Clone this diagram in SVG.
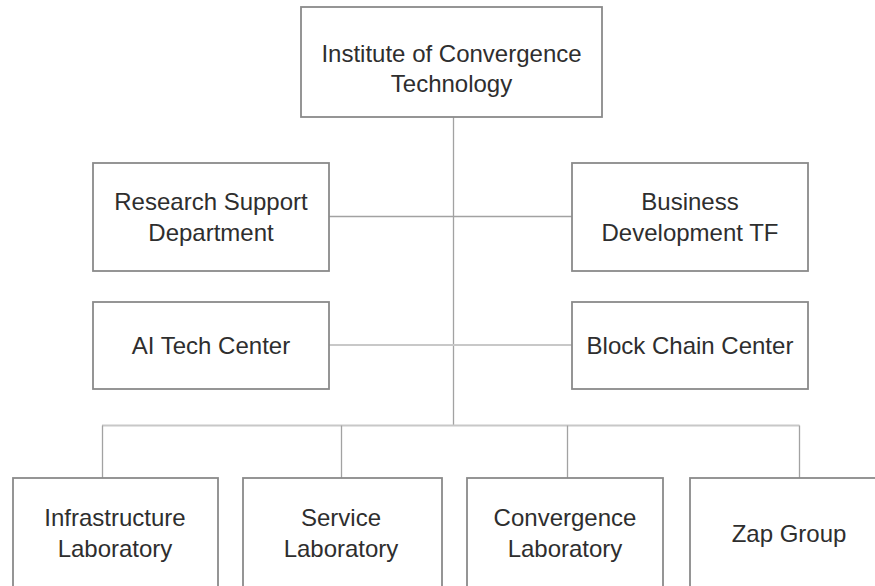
<svg xmlns="http://www.w3.org/2000/svg" width="875" height="586" viewBox="0 0 875 586">
  <style>
    .box { fill: #ffffff; stroke: #8a8a8a; stroke-width: 1.8; }
    .lbl { font-family: "Liberation Sans", Arial, sans-serif; font-size: 24px; fill: #2e2e2e; text-anchor: middle; }
    .thin { stroke: #a2a2a2; stroke-width: 1.3; fill: none; }
    .wide { stroke: #c8c8c8; stroke-width: 2.2; fill: none; }
  </style>
  <rect x="0" y="0" width="875" height="586" fill="#ffffff"/>

  <!-- connectors -->
  <g id="connectors">
    <line class="thin" x1="453.5" y1="117" x2="453.5" y2="426"/>
    <line class="thin" x1="329" y1="216.5" x2="572" y2="216.5"/>
    <line class="wide" x1="329" y1="345" x2="572" y2="345"/>
    <line class="wide" x1="102" y1="425.5" x2="799.5" y2="425.5"/>
    <line class="thin" x1="102.5" y1="425.5" x2="102.5" y2="478"/>
    <line class="thin" x1="341.5" y1="425.5" x2="341.5" y2="478"/>
    <line class="thin" x1="567.5" y1="425.5" x2="567.5" y2="478"/>
    <line class="thin" x1="799.5" y1="425.5" x2="799.5" y2="478"/>
  </g>

  <g id="institute">
    <rect class="box" x="301" y="7" width="301" height="110"/>
    <text class="lbl" x="451.5" y="62">Institute of Convergence</text>
    <text class="lbl" x="451.5" y="92">Technology</text>
  </g>

  <g id="research-support">
    <rect class="box" x="93" y="163" width="236" height="108"/>
    <text class="lbl" x="211" y="210">Research Support</text>
    <text class="lbl" x="211" y="241">Department</text>
  </g>

  <g id="business-development">
    <rect class="box" x="572" y="163" width="236" height="108"/>
    <text class="lbl" x="690" y="210">Business</text>
    <text class="lbl" x="690" y="241">Development TF</text>
  </g>

  <g id="ai-tech-center">
    <rect class="box" x="93" y="302" width="236" height="87"/>
    <text class="lbl" x="211" y="354">AI Tech Center</text>
  </g>

  <g id="block-chain-center">
    <rect class="box" x="572" y="302" width="236" height="87"/>
    <text class="lbl" x="690" y="354">Block Chain Center</text>
  </g>

  <g id="infrastructure-lab">
    <rect class="box" x="13" y="478" width="205" height="130"/>
    <text class="lbl" x="115" y="526">Infrastructure</text>
    <text class="lbl" x="115" y="557">Laboratory</text>
  </g>

  <g id="service-lab">
    <rect class="box" x="243" y="478" width="199" height="130"/>
    <text class="lbl" x="341" y="526">Service</text>
    <text class="lbl" x="341" y="557">Laboratory</text>
  </g>

  <g id="convergence-lab">
    <rect class="box" x="467" y="478" width="196" height="130"/>
    <text class="lbl" x="565" y="526">Convergence</text>
    <text class="lbl" x="565" y="557">Laboratory</text>
  </g>

  <g id="zap-group">
    <rect class="box" x="690" y="478" width="200" height="130"/>
    <text class="lbl" x="789" y="542">Zap Group</text>
  </g>
</svg>
